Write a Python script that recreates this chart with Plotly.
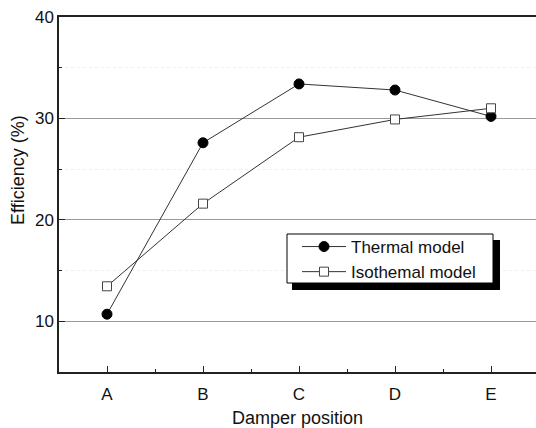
import plotly.graph_objects as go

categories = ["A", "B", "C", "D", "E"]
thermal = [10.7, 27.6, 33.4, 32.8, 30.2]
isothermal = [13.45, 21.6, 28.15, 29.9, 31.0]

xs = list(range(len(categories)))
W, H = 536, 428
L, T, B = 59, 17, 56
plot_w = W - L

fig = go.Figure()
fig.add_trace(go.Scatter(
    x=xs, y=thermal, name="Thermal model", mode="lines+markers",
    line=dict(color="#333333", width=1),
    marker=dict(symbol="circle", size=10, color="black", line=dict(color="black", width=1)),
))
fig.add_trace(go.Scatter(
    x=xs, y=isothermal, name="Isothemal model", mode="lines+markers",
    line=dict(color="#333333", width=1),
    marker=dict(symbol="square", size=9, color="white", line=dict(color="#444444", width=1)),
))

def px_to_paper_x(px):
    return (px - L) / plot_w

def px_to_paper_y(py):
    return (H - B - py) / (H - B - T)

# legend shadow and box
fig.add_shape(type="rect", xref="paper", yref="paper",
              x0=px_to_paper_x(292), x1=px_to_paper_x(500),
              y0=px_to_paper_y(290), y1=px_to_paper_y(240),
              fillcolor="black", line=dict(width=0), layer="above")
fig.add_shape(type="rect", xref="paper", yref="paper",
              x0=px_to_paper_x(287), x1=px_to_paper_x(493),
              y0=px_to_paper_y(283), y1=px_to_paper_y(234),
              fillcolor="white", line=dict(color="black", width=1), layer="above")

# y-axis title (placed as in the reference, above centre)
fig.add_annotation(text="Efficiency (%)", xref="paper", yref="paper",
                   x=px_to_paper_x(18), y=px_to_paper_y(170), textangle=-90,
                   showarrow=False, xanchor="center", yanchor="middle",
                   font=dict(size=18))

fig.update_layout(
    width=W, height=H,
    margin=dict(l=L, r=0, t=T, b=B),
    paper_bgcolor="white", plot_bgcolor="white",
    font=dict(family="Liberation Sans, Arial, sans-serif", size=17, color="#111111"),
    showlegend=True,
    legend=dict(x=px_to_paper_x(297), y=px_to_paper_y(229), xanchor="left", yanchor="top",
                bgcolor="rgba(0,0,0,0)", borderwidth=0,
                font=dict(size=17), tracegroupgap=0, itemwidth=44),
    xaxis=dict(range=[-0.5, -0.5 + plot_w / 96.0], tickvals=xs, ticktext=categories,
               ticks="inside", ticklen=6, tickcolor="#222", showgrid=False, zeroline=False,
               showline=True, linecolor="#222", linewidth=1.5, mirror=True,
               ticklabelstandoff=6,
               minor=dict(dtick=0.5, ticks="inside", ticklen=3, tickcolor="#222", showgrid=False),
               title=dict(text="Damper position", standoff=12, font=dict(size=18))),
    yaxis=dict(range=[5, 40], tickvals=[10, 20, 30, 40], ticks="inside", ticklen=6, tickcolor="#222",
               showgrid=True, gridcolor="#999999", gridwidth=1, zeroline=False,
               showline=True, linecolor="#222", linewidth=1.5,
               minor=dict(dtick=5, ticks="inside", ticklen=3, tickcolor="#222",
                          showgrid=True, gridcolor="#eeeeee", griddash="dot", gridwidth=1)),
)

fig.write_html("out.html")
